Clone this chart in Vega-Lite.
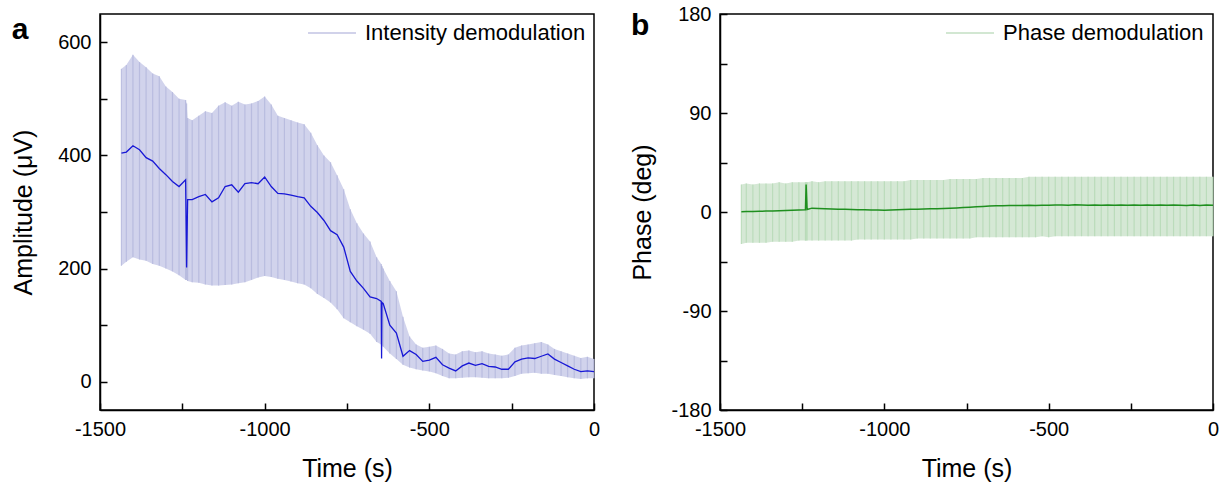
{
  "$schema": "https://vega.github.io/schema/vega-lite/v6.json",
  "padding": {"left": 10, "top": 3, "right": 1, "bottom": 2},
  "background": "white",
  "config": {
    "font": "Liberation Sans",
    "view": {"stroke": "black", "strokeWidth": 1.5},
    "axis": {
      "grid": false,
      "zindex": 1,
      "domainColor": "black",
      "domainWidth": 1.5,
      "tickColor": "black",
      "tickWidth": 1.5,
      "tickSize": -7,
      "labelColor": "black",
      "labelFont": "Liberation Sans",
      "labelFontSize": 20,
      "labelFlush": false,
      "titleFont": "Liberation Sans",
      "titleFontSize": 25,
      "titleFontWeight": "normal",
      "titleColor": "black",
      "labelPadding": 16
    },
    "legend": {
      "orient": "none",
      "labelFont": "Liberation Sans",
      "labelFontSize": 22,
      "labelColor": "black",
      "labelLimit": 400,
      "symbolSize": 2300,
      "symbolStrokeWidth": 1.5,
      "padding": 0,
      "labelOffset": 8
    },
    "title": {"font": "Liberation Sans", "fontSize": 30, "fontWeight": "bold", "color": "black", "anchor": "start", "frame": "bounds", "offset": -37, "baseline": "alphabetic"}
  },
  "datasets": {
    "amp": [
      {"t": -1435, "m": 404, "lo": 205, "hi": 553},
      {"t": -1420, "m": 406, "lo": 212, "hi": 560},
      {"t": -1400, "m": 417, "lo": 220, "hi": 578},
      {"t": -1380, "m": 410, "lo": 216, "hi": 565},
      {"t": -1360, "m": 396, "lo": 214, "hi": 556},
      {"t": -1340, "m": 390, "lo": 208, "hi": 545},
      {"t": -1320, "m": 377, "lo": 205, "hi": 540},
      {"t": -1300, "m": 366, "lo": 200, "hi": 522},
      {"t": -1280, "m": 354, "lo": 195, "hi": 512},
      {"t": -1260, "m": 345, "lo": 188, "hi": 500},
      {"t": -1240, "m": 357, "lo": 180, "hi": 498},
      {"t": -1237, "m": 202, "lo": 180, "hi": 492},
      {"t": -1234, "m": 322, "lo": 178, "hi": 466},
      {"t": -1220, "m": 322, "lo": 176, "hi": 462},
      {"t": -1200, "m": 327, "lo": 175, "hi": 470},
      {"t": -1180, "m": 331, "lo": 172, "hi": 478},
      {"t": -1160, "m": 318, "lo": 170, "hi": 475},
      {"t": -1140, "m": 325, "lo": 170, "hi": 488},
      {"t": -1120, "m": 345, "lo": 171, "hi": 494},
      {"t": -1100, "m": 348, "lo": 172, "hi": 488},
      {"t": -1080, "m": 335, "lo": 174, "hi": 495},
      {"t": -1060, "m": 350, "lo": 176, "hi": 490},
      {"t": -1040, "m": 352, "lo": 180, "hi": 492},
      {"t": -1020, "m": 350, "lo": 184, "hi": 496},
      {"t": -1000, "m": 362, "lo": 187, "hi": 504},
      {"t": -980, "m": 345, "lo": 185, "hi": 490},
      {"t": -960, "m": 333, "lo": 182, "hi": 470},
      {"t": -940, "m": 332, "lo": 180, "hi": 466},
      {"t": -920, "m": 330, "lo": 177, "hi": 462},
      {"t": -900, "m": 327, "lo": 174, "hi": 458},
      {"t": -880, "m": 325, "lo": 172, "hi": 455},
      {"t": -860, "m": 310, "lo": 165, "hi": 440},
      {"t": -840, "m": 299, "lo": 155, "hi": 418},
      {"t": -820, "m": 285, "lo": 148, "hi": 400},
      {"t": -800, "m": 267, "lo": 140, "hi": 388},
      {"t": -780, "m": 260, "lo": 128, "hi": 365},
      {"t": -760, "m": 238, "lo": 112, "hi": 340},
      {"t": -740, "m": 195, "lo": 105, "hi": 305},
      {"t": -720, "m": 178, "lo": 98, "hi": 280},
      {"t": -700, "m": 165, "lo": 92, "hi": 262},
      {"t": -680, "m": 150, "lo": 85, "hi": 248},
      {"t": -660, "m": 147, "lo": 70, "hi": 220},
      {"t": -646, "m": 142, "lo": 66, "hi": 208},
      {"t": -645, "m": 41, "lo": 65, "hi": 205},
      {"t": -644, "m": 140, "lo": 64, "hi": 204},
      {"t": -640, "m": 138, "lo": 62, "hi": 200},
      {"t": -620, "m": 100, "lo": 50, "hi": 178},
      {"t": -600, "m": 86, "lo": 40, "hi": 160},
      {"t": -580, "m": 45, "lo": 30, "hi": 115},
      {"t": -560, "m": 55, "lo": 25, "hi": 80},
      {"t": -540, "m": 48, "lo": 22, "hi": 66},
      {"t": -520, "m": 36, "lo": 20, "hi": 60},
      {"t": -500, "m": 38, "lo": 18, "hi": 62},
      {"t": -480, "m": 43, "lo": 15, "hi": 64},
      {"t": -460, "m": 30, "lo": 10, "hi": 58},
      {"t": -440, "m": 24, "lo": 6, "hi": 50},
      {"t": -420, "m": 19, "lo": 6, "hi": 48},
      {"t": -400, "m": 28, "lo": 7, "hi": 54},
      {"t": -380, "m": 33, "lo": 8, "hi": 55},
      {"t": -360, "m": 29, "lo": 8, "hi": 52},
      {"t": -340, "m": 32, "lo": 7, "hi": 54},
      {"t": -320, "m": 27, "lo": 6, "hi": 50},
      {"t": -300, "m": 26, "lo": 6, "hi": 48},
      {"t": -280, "m": 22, "lo": 6, "hi": 46},
      {"t": -260, "m": 22, "lo": 7, "hi": 48},
      {"t": -240, "m": 35, "lo": 10, "hi": 60},
      {"t": -220, "m": 40, "lo": 14, "hi": 64},
      {"t": -200, "m": 42, "lo": 15, "hi": 66},
      {"t": -180, "m": 41, "lo": 16, "hi": 68},
      {"t": -160, "m": 45, "lo": 14, "hi": 70},
      {"t": -140, "m": 49, "lo": 14, "hi": 66},
      {"t": -120, "m": 40, "lo": 12, "hi": 58},
      {"t": -100, "m": 34, "lo": 10, "hi": 54},
      {"t": -80, "m": 28, "lo": 8, "hi": 50},
      {"t": -60, "m": 22, "lo": 6, "hi": 46},
      {"t": -40, "m": 18, "lo": 5, "hi": 42},
      {"t": -20, "m": 19, "lo": 6, "hi": 44},
      {"t": 0, "m": 18, "lo": 6, "hi": 40}
    ],
    "phase": [
      {"t": -1435, "m": 0.3, "lo": -29, "hi": 25},
      {"t": -1420, "m": 0.4, "lo": -28, "hi": 26},
      {"t": -1400, "m": 0.5, "lo": -28, "hi": 25},
      {"t": -1380, "m": 0.6, "lo": -28, "hi": 26},
      {"t": -1360, "m": 0.8, "lo": -28, "hi": 26},
      {"t": -1340, "m": 1.0, "lo": -27, "hi": 26},
      {"t": -1320, "m": 1.2, "lo": -27, "hi": 27},
      {"t": -1300, "m": 1.4, "lo": -27, "hi": 26},
      {"t": -1280, "m": 1.6, "lo": -27, "hi": 27},
      {"t": -1260, "m": 1.8, "lo": -26, "hi": 27},
      {"t": -1240, "m": 2.0, "lo": -26, "hi": 27},
      {"t": -1238, "m": 25, "lo": -26, "hi": 27},
      {"t": -1235, "m": 2.2, "lo": -26, "hi": 27},
      {"t": -1220, "m": 3.5, "lo": -26, "hi": 28},
      {"t": -1200, "m": 3.2, "lo": -26, "hi": 27},
      {"t": -1180, "m": 2.9, "lo": -26, "hi": 28},
      {"t": -1160, "m": 2.7, "lo": -26, "hi": 28},
      {"t": -1140, "m": 2.5, "lo": -26, "hi": 28},
      {"t": -1120, "m": 2.4, "lo": -26, "hi": 28},
      {"t": -1100, "m": 2.2, "lo": -26, "hi": 28},
      {"t": -1080, "m": 2.1, "lo": -25, "hi": 28},
      {"t": -1060, "m": 2.0, "lo": -25, "hi": 28},
      {"t": -1040, "m": 1.9, "lo": -25, "hi": 28},
      {"t": -1020, "m": 1.8, "lo": -25, "hi": 28},
      {"t": -1000, "m": 1.7, "lo": -25, "hi": 28},
      {"t": -980, "m": 1.9, "lo": -25, "hi": 28},
      {"t": -960, "m": 2.0, "lo": -25, "hi": 28},
      {"t": -940, "m": 2.2, "lo": -25, "hi": 28},
      {"t": -920, "m": 2.4, "lo": -25, "hi": 29},
      {"t": -900, "m": 2.5, "lo": -24, "hi": 29},
      {"t": -880, "m": 2.7, "lo": -24, "hi": 29},
      {"t": -860, "m": 2.9, "lo": -24, "hi": 29},
      {"t": -840, "m": 3.0, "lo": -24, "hi": 29},
      {"t": -820, "m": 3.2, "lo": -24, "hi": 29},
      {"t": -800, "m": 3.4, "lo": -24, "hi": 30},
      {"t": -780, "m": 3.7, "lo": -24, "hi": 30},
      {"t": -760, "m": 4.0, "lo": -24, "hi": 30},
      {"t": -740, "m": 4.4, "lo": -24, "hi": 30},
      {"t": -720, "m": 4.8, "lo": -23, "hi": 30},
      {"t": -700, "m": 5.1, "lo": -23, "hi": 31},
      {"t": -680, "m": 5.4, "lo": -23, "hi": 31},
      {"t": -660, "m": 5.6, "lo": -23, "hi": 31},
      {"t": -640, "m": 5.7, "lo": -23, "hi": 31},
      {"t": -620, "m": 5.8, "lo": -23, "hi": 31},
      {"t": -600, "m": 5.9, "lo": -23, "hi": 31},
      {"t": -580, "m": 6.0, "lo": -23, "hi": 31},
      {"t": -560, "m": 6.1, "lo": -23, "hi": 32},
      {"t": -540, "m": 6.0, "lo": -23, "hi": 32},
      {"t": -520, "m": 6.2, "lo": -22, "hi": 32},
      {"t": -500, "m": 6.1, "lo": -23, "hi": 32},
      {"t": -480, "m": 6.3, "lo": -22, "hi": 32},
      {"t": -460, "m": 6.4, "lo": -22, "hi": 32},
      {"t": -440, "m": 6.2, "lo": -22, "hi": 32},
      {"t": -420, "m": 6.5, "lo": -22, "hi": 32},
      {"t": -400, "m": 6.3, "lo": -22, "hi": 32},
      {"t": -380, "m": 6.2, "lo": -22, "hi": 32},
      {"t": -360, "m": 6.4, "lo": -22, "hi": 32},
      {"t": -340, "m": 6.1, "lo": -22, "hi": 32},
      {"t": -320, "m": 6.3, "lo": -22, "hi": 32},
      {"t": -300, "m": 6.2, "lo": -22, "hi": 32},
      {"t": -280, "m": 6.4, "lo": -22, "hi": 32},
      {"t": -260, "m": 6.1, "lo": -22, "hi": 32},
      {"t": -240, "m": 6.3, "lo": -22, "hi": 32},
      {"t": -220, "m": 6.2, "lo": -22, "hi": 32},
      {"t": -200, "m": 6.4, "lo": -22, "hi": 32},
      {"t": -180, "m": 6.2, "lo": -22, "hi": 32},
      {"t": -160, "m": 6.3, "lo": -22, "hi": 32},
      {"t": -140, "m": 6.1, "lo": -22, "hi": 32},
      {"t": -120, "m": 6.3, "lo": -22, "hi": 32},
      {"t": -100, "m": 6.2, "lo": -22, "hi": 32},
      {"t": -80, "m": 6.0, "lo": -22, "hi": 32},
      {"t": -60, "m": 6.3, "lo": -22, "hi": 32},
      {"t": -40, "m": 5.9, "lo": -22, "hi": 32},
      {"t": -20, "m": 6.4, "lo": -22, "hi": 32},
      {"t": 0, "m": 6.2, "lo": -22, "hi": 32}
    ]
  },
  "resolve": {"scale": {"color": "independent"}, "legend": {"color": "independent"}},
  "spacing": 29,
  "hconcat": [
    {
      "width": 494,
      "height": 396,
      "title": {"text": "a"},
      "data": {"name": "amp"},
      "encoding": {
        "x": {
          "field": "t", "type": "quantitative",
          "scale": {"domain": [-1500, 0], "nice": false, "zero": false},
          "axis": {
            "title": "Time (s)",
            "values": [-1500, -1250, -1000, -750, -500, -250, 0],
            "labelExpr": "datum.value % 500 === 0 ? toString(datum.value) : ''",
            "titlePadding": 17
          }
        }
      },
      "layer": [
        {
          "mark": {"type": "area", "color": "#ccceea", "opacity": 0.9},
          "encoding": {
            "y": {"field": "lo", "type": "quantitative",
              "scale": {"domain": [-50, 650], "nice": false, "zero": false},
              "axis": {
                "title": "Amplitude (μV)",
                "values": [0, 100, 200, 300, 400, 500, 600],
                "labelExpr": "datum.value % 200 === 0 ? toString(datum.value) : ''",
                "titlePadding": 21
              }
            },
            "y2": {"field": "hi"}
          }
        },
        {
          "mark": {"type": "rule", "strokeWidth": 1.2, "opacity": 0.8},
          "encoding": {
            "y": {"field": "lo", "type": "quantitative"},
            "y2": {"field": "hi"},
            "color": {
              "datum": "Intensity demodulation",
              "scale": {"range": ["#b3b6dc"]},
              "legend": {"title": null, "legendX": 207, "legendY": -6}
            }
          }
        },
        {
          "mark": {"type": "line", "color": "#1818d6", "strokeWidth": 1.3},
          "encoding": {"y": {"field": "m", "type": "quantitative"}}
        }
      ]
    },
    {
      "width": 493,
      "height": 396,
      "title": {"text": "b"},
      "data": {"name": "phase"},
      "encoding": {
        "x": {
          "field": "t", "type": "quantitative",
          "scale": {"domain": [-1500, 0], "nice": false, "zero": false},
          "axis": {
            "title": "Time (s)",
            "values": [-1500, -1250, -1000, -750, -500, -250, 0],
            "labelExpr": "datum.value % 500 === 0 ? toString(datum.value) : ''",
            "titlePadding": 17
          }
        }
      },
      "layer": [
        {
          "mark": {"type": "area", "color": "#d0e6d0", "opacity": 0.9},
          "encoding": {
            "y": {"field": "lo", "type": "quantitative",
              "scale": {"domain": [-180, 180], "nice": false, "zero": false},
              "axis": {
                "title": "Phase (deg)",
                "values": [-180, -135, -90, -45, 0, 45, 90, 135, 180],
                "labelExpr": "datum.value % 90 === 0 ? toString(datum.value) : ''",
                "titlePadding": 15
              }
            },
            "y2": {"field": "hi"}
          }
        },
        {
          "mark": {"type": "rule", "strokeWidth": 1.2, "opacity": 0.8},
          "encoding": {
            "y": {"field": "lo", "type": "quantitative"},
            "y2": {"field": "hi"},
            "color": {
              "datum": "Phase demodulation",
              "scale": {"range": ["#b4d8b4"]},
              "legend": {"title": null, "legendX": 225, "legendY": -6}
            }
          }
        },
        {
          "mark": {"type": "line", "color": "#1f8f1f", "strokeWidth": 1.5},
          "encoding": {"y": {"field": "m", "type": "quantitative"}}
        }
      ]
    }
  ]
}
